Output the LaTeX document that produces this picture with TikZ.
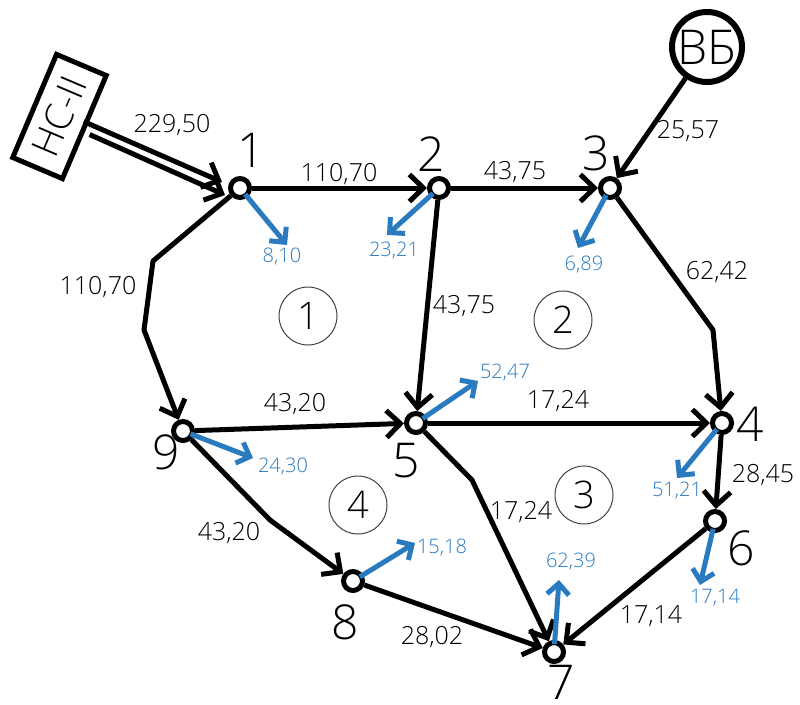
\documentclass[tikz,border=0pt]{standalone}
\usepackage{fontspec}
\setmainfont{Open Sans}[UprightFont=* Light]
\usetikzlibrary{arrows.meta}
\definecolor{flowblue}{HTML}{2A7ABF}
\tikzset{
 x=1pt,y=-1pt,
 junction/.style={circle,draw=black,fill=white,line width=5pt,minimum size=19pt,inner sep=0pt},
 flow/.style={line width=5pt,-{Straight Barb[length=14pt,width=27pt,line width=5pt]},line join=round},
 tap/.style={line width=5pt,draw=flowblue,-{Straight Barb[length=11pt,width=22pt,line width=5pt]},shorten <=-4pt},
 val/.style={font=\fontsize{25}{25}\selectfont,inner sep=0pt},
 bval/.style={font=\fontsize{20}{20}\selectfont,text=flowblue,inner sep=0pt},
 num/.style={font=\fontsize{48}{48}\selectfont,inner sep=0pt},
 zone/.style={circle,draw=black!75,line width=1pt,minimum size=58pt,inner sep=0pt,font=\fontsize{38}{38}\selectfont},
}
\begin{document}
\begin{tikzpicture}
\useasboundingbox (0,0) rectangle (800,704);
% junctions
\node[junction] (n1) at (240,188) {};
\node[junction] (n2) at (439,188) {};
\node[junction] (n3) at (610,188) {};
\node[junction] (n4) at (722,423) {};
\node[junction] (n5) at (416,423) {};
\node[junction] (n6) at (715,521) {};
\node[junction] (n7) at (554,652) {};
\node[junction] (n8) at (353,581) {};
\node[junction] (n9) at (183,431) {};
% sources
\node[circle,draw,line width=6pt,minimum size=70pt,inner sep=0pt,font=\fontsize{48}{48}\selectfont] (vb) at (707,47) {ВБ};
\node[draw,line width=5pt,rotate=67,minimum width=112pt,minimum height=54pt,inner sep=0pt,font=\fontsize{38}{38}\selectfont] (ns) at (59.5,116.5) {НС-II};
% double feed
\coordinate (a1) at ([xshift=3pt,yshift=-6.5pt]ns.south);
\coordinate (a2) at ([xshift=-3pt,yshift=6.5pt]ns.south);
\coordinate (b1) at ([xshift=-3pt,yshift=-7pt]n1.west);
\coordinate (b2) at ([xshift=-6pt,yshift=6pt]n1.west);
\draw[flow] (a1) -- (b1);
\draw[flow] (a2) -- (b2);
% flows
\draw[flow] (n1) -- (n2);
\draw[flow] (n2) -- (n3);
\draw[flow] (vb) -- (n3);
\draw[flow] (n2) -- (n5);
\coordinate (c1) at (153,261);
\coordinate (c2) at (144,330);
\draw[flow] (n1) -- (c1) -- (c2) -- (n9);
\coordinate (c3) at (713,330);
\draw[flow] (n3) -- (c3) -- (n4);
\draw[flow] (n9) -- (n5);
\draw[flow] (n5) -- (n4);
\draw[flow] (n4) -- (n6);
\coordinate (c4) at (472,480);
\draw[flow] (n5) -- (c4) -- (n7);
\coordinate (c5) at (270,520);
\draw[flow] (n9) -- (c5) -- (n8);
\draw[flow] (n8) -- (n7);
\draw[flow] (n6) -- (n7);
% taps
\coordinate (t1) at (287,245);
\coordinate (t2) at (387,235);
\coordinate (t3) at (578,248);
\coordinate (t4) at (677,478);
\coordinate (t5) at (478,381);
\coordinate (t6) at (700,585);
\coordinate (t7) at (559,580);
\coordinate (t8) at (415,543);
\coordinate (t9) at (253,458);
\foreach \n/\t in {n1/t1,n2/t2,n3/t3,n4/t4,n5/t5,n6/t6,n7/t7,n8/t8,n9/t9}
  \draw[tap] (\n) -- (\t);
% values
\node[val] (v1) at (172,125) {229,50};
\node[val] (v2) at (339,174) {110,70};
\node[val] (v3) at (515,172) {43,75};
\node[val] (v4) at (688,131) {25,57};
\node[val] (v5) at (98,287) {110,70};
\node[val] (v6) at (464,306) {43,75};
\node[val] (v7) at (717,272) {62,42};
\node[val] (v8) at (295,404) {43,20};
\node[val] (v9) at (558,401) {17,24};
\node[val] (v10) at (763,475) {28,45};
\node[val] (v11) at (521,512) {17,24};
\node[val] (v12) at (229,533) {43,20};
\node[val] (v13) at (432,637) {28,02};
\node[val] (v14) at (651,616) {17,14};
% tap values
\node[bval] (b1v) at (282,257) {8,10};
\node[bval] (b2v) at (394,251) {23,21};
\node[bval] (b3v) at (584,265) {6,89};
\node[bval] (b4v) at (677,491) {51,21};
\node[bval] (b5v) at (505,373) {52,47};
\node[bval] (b6v) at (715,598) {17,14};
\node[bval] (b7v) at (571,562) {62,39};
\node[bval] (b8v) at (442,548) {15,18};
\node[bval] (b9v) at (283,467) {24,30};
% junction numbers
\node[num] (l1) at (251,150) {1};
\node[num] (l2) at (431,154) {2};
\node[num] (l3) at (596,153) {3};
\node[num] (l4) at (750,424) {4};
\node[num] (l5) at (406,461) {5};
\node[num] (l6) at (741,548) {6};
\node[num] (l7) at (561,682) {7};
\node[num] (l8) at (345,622) {8};
\node[num] (l9) at (166,452) {9};
% zones
\node[zone] (z1) at (308,316) {1};
\node[zone] (z2) at (563,320) {2};
\node[zone] (z3) at (584,495) {3};
\node[zone] (z4) at (358,505) {4};
\end{tikzpicture}
\end{document}
